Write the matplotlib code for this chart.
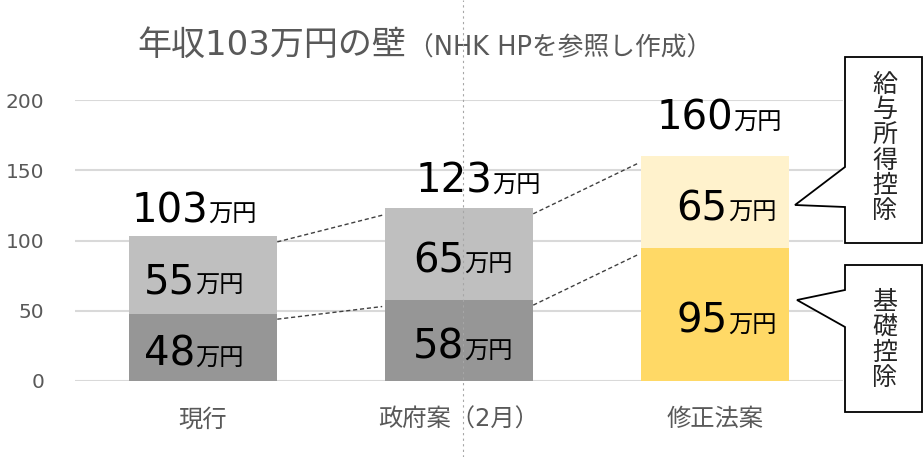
import numpy as np
import matplotlib
matplotlib.use('Agg')
import matplotlib.pyplot as plt
from matplotlib.patches import Polygon
from matplotlib.lines import Line2D

# Latin glyphs from DejaVu (wide, like Meiryo), CJK falls back to Noto
plt.rcParams['font.family'] = ['DejaVu Sans', 'Noto Sans CJK JP']

categories = ['現行', '政府案（2月）', '修正法案']
kiso = [48, 58, 95]          # 基礎控除
kyuyo = [55, 65, 65]         # 給与所得控除
totals = [a + b for a, b in zip(kiso, kyuyo)]
yticks = [0, 50, 100, 150, 200]

low_colors = ['#969696', '#969696', '#ffd966']
high_colors = ['#bfbfbf', '#bfbfbf', '#fff2cc']

# label layout tweaks (x offset of number/万円 junction, gap above bar)
top_dx = [0.02, 0.13, 0.07]
seg_dx = [-0.03, 0.02, 0.05]
top_pad = [10, 11, 19]

W, H = 924, 457
fig = plt.figure(figsize=(W / 100, H / 100), dpi=100)
ax = fig.add_axes([75 / W, 76 / H, (843 - 75) / W, (381 - 100) / H])

x = np.arange(len(categories))
bw = 0.58
ax.bar(x, kiso, bw, color=low_colors, zorder=3)
ax.bar(x, kyuyo, bw, bottom=kiso, color=high_colors, zorder=3)

ax.set_xlim(-0.5, 2.5)
ax.set_ylim(0, 200)
ax.set_yticks(yticks)
ax.set_yticklabels([str(v) for v in yticks], fontsize=14.5, color='#595959')
ax.tick_params(axis='y', length=0, pad=22)
ax.set_xticks(x)
ax.set_xticklabels(categories, fontsize=17.5, color='#595959')
ax.tick_params(axis='x', length=0, pad=19)
for s in ax.spines.values():
    s.set_visible(False)
ax.grid(axis='y', color='#d9d9d9', lw=1.5, zorder=0)
ax.set_axisbelow(True)


def money(xc, y, num, dx):
    ax.text(xc + dx, y, str(num), fontsize=29, ha='right', va='baseline',
            color='black', zorder=5)
    ax.text(xc + dx, y, '万円', fontsize=17.5, ha='left', va='baseline',
            color='black', zorder=5)


for i in range(len(categories)):
    money(x[i], kiso[i] / 2 - 13, kiso[i], seg_dx[i])
    money(x[i], kiso[i] + kyuyo[i] / 2 - 13, kyuyo[i], seg_dx[i])
    money(x[i], totals[i] + top_pad[i], totals[i], top_dx[i])

# dashed connector lines
for i in range(len(categories) - 1):
    for tops in (kiso, totals):
        ax.plot([x[i] + bw / 2, x[i + 1] - bw / 2 - 0.01],
                [tops[i] - 4, tops[i + 1] - 5],
                ls=(0, (3, 2)), color='#404040', lw=1, zorder=4)

# title
fig.text(137 / W, 1 - 46 / H, '年収103万円の壁', fontsize=24.5, color='#595959',
         ha='left', va='center')
fig.text(408 / W, 1 - 48 / H, '（NHK HPを参照し作成）', fontsize=18.5,
         color='#595959', ha='left', va='center')

# callouts (pixel coordinates from top-left)
def callout(pts, text, cy):
    pts = [(px / W, 1 - py / H) for px, py in pts]
    fig.add_artist(Polygon(pts, closed=True, transform=fig.transFigure,
                           facecolor='white', edgecolor='black', lw=1.3,
                           zorder=10))
    fig.text(885 / W, 1 - cy / H, '\n'.join(text), fontsize=18,
             color='#262626', ha='center', va='center', linespacing=1.06,
             zorder=11)


callout([(845, 57), (922, 57), (922, 243), (845, 243), (845, 207),
         (795, 205), (845, 167)], '給与所得控除', 148)
callout([(845, 265), (922, 265), (922, 412), (845, 412), (845, 327),
         (797, 300), (845, 290)], '基礎控除', 340)

# centre guide line
fig.add_artist(Line2D([463 / W, 463 / W], [0, 1], transform=fig.transFigure,
                      color='#a6a6a6', lw=0.8, ls=(0, (2, 3)), zorder=20))

fig.savefig('out.png', dpi=100)
